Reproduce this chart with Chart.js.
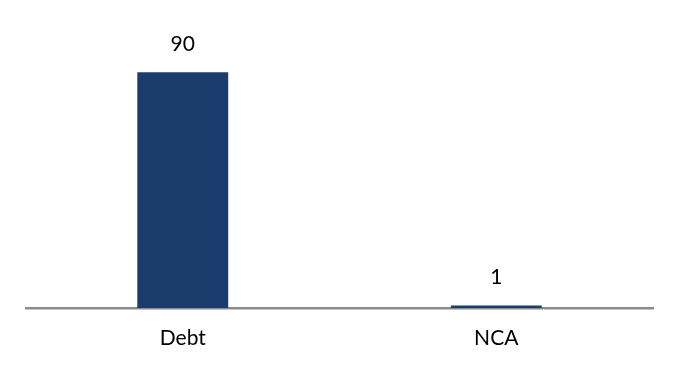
<!DOCTYPE html>
<html>
<head>
<meta charset="utf-8">
<script src="https://cdn.jsdelivr.net/npm/chart.js@4.4.1/dist/chart.umd.min.js"></script>
<style>
  html, body { margin: 0; padding: 0; background: #fff; }
  #wrap { width: 677px; height: 377px; position: relative; }
</style>
</head>
<body>
<div id="wrap"><canvas id="chart"></canvas></div>
<script>
// --- Chart data ---
const categories = ['Debt', 'NCA'];
const values = [90, 1];
const barColor = '#1b3d6e';

// draws the value above each bar
const valueLabels = {
    id: 'valueLabels',
    afterDatasetsDraw(chart) {
        const ctx = chart.ctx;
        const meta = chart.getDatasetMeta(0);
        ctx.save();
        ctx.font = '21px Lato';
        ctx.fillStyle = '#000';
        ctx.textAlign = 'center';
        ctx.textBaseline = 'middle';
        meta.data.forEach((bar, i) => {
            ctx.fillText(String(values[i]), bar.x, bar.y - 28);
        });
        ctx.restore();
    }
};

const ctx = document.getElementById('chart').getContext('2d');
new Chart(ctx, {
    type: 'bar',
    data: {
        labels: categories,
        datasets: [{
            data: values,
            backgroundColor: barColor,
            borderWidth: 0,
            barPercentage: 0.29,
            categoryPercentage: 1
        }]
    },
    options: {
        responsive: true,
        maintainAspectRatio: false,
        animation: false,
        layout: { padding: { top: 46, left: 26, right: 24, bottom: 0 } },
        plugins: { legend: { display: false }, tooltip: { enabled: false } },
        scales: {
            x: {
                grid: { display: false, drawTicks: false },
                border: { display: true, color: '#8a8a8a', width: 2.5 },
                ticks: { color: '#000', font: { family: 'Lato', size: 21 }, padding: 18 },
                afterFit(scale) { scale.height = 69; }
            },
            y: {
                display: false,
                min: 0,
                max: 100
            }
        }
    },
    plugins: [valueLabels]
});
</script>
</body>
</html>
